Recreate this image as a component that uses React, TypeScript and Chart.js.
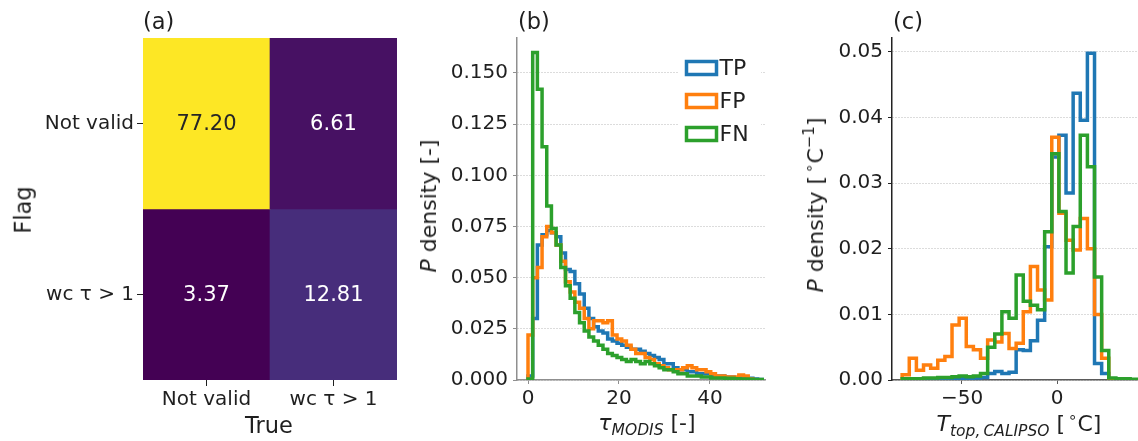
import React, { useEffect, useRef } from 'react';
import { Chart, registerables } from 'chart.js';

Chart.register(...registerables);

const FONT = "'DejaVu Sans', 'Liberation Sans', sans-serif";
const INK = '#1f1f1f';

// ---------------- Panel (a): confusion matrix ----------------
const flagLabels = ['Not valid', 'wc τ > 1']; // rows, top -> bottom
const trueLabels = ['Not valid', 'wc τ > 1']; // columns
const flagNotValidRow = [77.2, 6.61];
const flagWcTauRow = [3.37, 12.81];

// ---------------- shared series ----------------
const seriesNames = ['TP', 'FP', 'FN'];
const seriesColors = ['#1f77b4', '#ff7f0e', '#2ca02c'];

// ---------------- Panel (b): tau_MODIS histograms ----------------
const tauBinStart = 0;
const tauBinWidth = 1.03;
const tauTP = [
  0.002, 0.03, 0.066, 0.071, 0.073, 0.072, 0.07, 0.062, 0.054, 0.053,
  0.047, 0.042, 0.035, 0.03, 0.026, 0.024, 0.023, 0.02, 0.019, 0.018,
  0.017, 0.016, 0.015, 0.015, 0.014, 0.013, 0.012, 0.011, 0.01, 0.008,
  0.008, 0.006, 0.005, 0.005, 0.004, 0.004, 0.003, 0.003, 0.003, 0.002,
  0.002, 0.002, 0.0015, 0.0015, 0.001, 0.001, 0.001, 0.0008, 0.0005, 0.0003,
];
const tauFP = [
  0.022, 0.05, 0.055, 0.07, 0.075, 0.072, 0.066, 0.058, 0.048, 0.043,
  0.038, 0.035, 0.03, 0.025, 0.029, 0.029, 0.028, 0.029, 0.022, 0.02,
  0.019, 0.017, 0.015, 0.013, 0.013, 0.011, 0.01, 0.008, 0.007, 0.006,
  0.005, 0.005, 0.005, 0.006, 0.007, 0.006, 0.005, 0.005, 0.004, 0.003,
  0.002, 0.002, 0.0015, 0.0015, 0.0015, 0.0024, 0.002, 0.0005, 0, 0,
];
const tauFN = [
  0.0005, 0.16, 0.142, 0.114, 0.085, 0.074, 0.066, 0.055, 0.046, 0.04,
  0.033, 0.028, 0.024, 0.021, 0.019, 0.017, 0.015, 0.013, 0.012, 0.011,
  0.01, 0.009, 0.01, 0.009, 0.008, 0.009, 0.008, 0.007, 0.006, 0.005,
  0.005, 0.004, 0.003, 0.003, 0.002, 0.002, 0.002, 0.0015, 0.0015, 0.001,
  0.001, 0.001, 0.0008, 0.0008, 0.0006, 0.0005, 0.0005, 0.0004, 0.0003, 0.0003,
];
const tauXTicks = [0, 20, 40];
const tauYTicks = [0, 0.025, 0.05, 0.075, 0.1, 0.125, 0.15];

// ---------------- Panel (c): T_top,CALIPSO histograms ----------------
const tempBinStart = -81.5;
const tempBinWidth = 3.75;
const tempTP = [
  0, 0, 0, 0, 0, 0.0001, 0.0001, 0.0001, 0.0002, 0.0002,
  0.0003, 0.0004, 0.001, 0.0013, 0.001, 0.0012, 0.0046, 0.0045, 0.006, 0.0091,
  0.0203, 0.034, 0.0373, 0.0285, 0.0437, 0.0396, 0.0498, 0.0025, 0.001, 0,
  0, 0, 0,
];
const tempFP = [
  0.0008, 0.0033, 0.0015, 0.0023, 0.0018, 0.003, 0.0036, 0.0084, 0.0094, 0.0051,
  0.0046, 0.0033, 0.0061, 0.0058, 0.0071, 0.0048, 0.0056, 0.0104, 0.0173, 0.0137,
  0.0122, 0.037, 0.0254, 0.0213, 0.0198, 0.0246, 0.02, 0.01, 0.0033, 0,
  0, 0, 0,
];
const tempFN = [
  0.0002, 0.0002, 0.0002, 0.0003, 0.0003, 0.0004, 0.0004, 0.0005, 0.0006, 0.0005,
  0.0006, 0.001, 0.005, 0.007, 0.0104, 0.0094, 0.016, 0.012, 0.0114, 0.0107,
  0.0226, 0.0345, 0.0257, 0.0163, 0.0234, 0.0373, 0.0325, 0.0157, 0.0045, 0.0003,
  0.0002, 0.0002, 0.0001,
];
const tempXTicks = [-50, 0];
const tempYTicks = [0, 0.01, 0.02, 0.03, 0.04, 0.05];

// ---------------- colour map ----------------
const viridisStops = [
  '#440154', '#471365', '#482475', '#463480', '#414487', '#3b528b', '#355f8d',
  '#2f6c8e', '#2a788e', '#25848e', '#21918c', '#1e9c89', '#22a884', '#2fb47c',
  '#44bf70', '#5ec962', '#7ad151', '#9bd93c', '#bddf26', '#dfe318', '#fde725',
];
function hexToRgb(h: string) {
  return [1, 3, 5].map((i) => parseInt(h.slice(i, i + 2), 16));
}
function viridis(t: number) {
  const tt = Math.max(0, Math.min(1, t));
  const pos = tt * (viridisStops.length - 1);
  const i = Math.min(Math.floor(pos), viridisStops.length - 2);
  const f = pos - i;
  const a = hexToRgb(viridisStops[i]);
  const b = hexToRgb(viridisStops[i + 1]);
  const c = a.map((v, k) => Math.round(v + (b[k] - v) * f));
  return `rgb(${c[0]},${c[1]},${c[2]})`;
}

function stepPoints(start: number, width: number, values: number[]) {
  const pts = [{ x: start, y: 0 }];
  values.forEach((v, i) => pts.push({ x: start + i * width, y: v }));
  const end = start + values.length * width;
  pts.push({ x: end, y: values[values.length - 1] });
  pts.push({ x: end, y: 0 });
  return pts;
}

const heatRows = [flagNotValidRow, flagWcTauRow];

const cellValuesPlugin = {
  id: 'cellValues',
  afterDatasetsDraw(chart: any) {
    const ctx = chart.ctx;
    const all = heatRows.flat();
    const mn = Math.min(...all);
    const mx = Math.max(...all);
    ctx.save();
    ctx.font = `21px ${FONT}`;
    ctx.textAlign = 'center';
    ctx.textBaseline = 'middle';
    chart.data.datasets.forEach((_ds: any, di: number) => {
      const meta = chart.getDatasetMeta(di);
      meta.data.forEach((bar: any, ci: number) => {
        const p = bar.getProps(['x', 'y', 'base'], true);
        const v = heatRows[di][ci];
        ctx.fillStyle = (v - mn) / (mx - mn) > 0.5 ? '#262626' : '#ffffff';
        ctx.fillText(v.toFixed(2), p.x, (p.y + p.base) / 2 + 1);
      });
    });
    ctx.restore();
  },
};

const boxLegendPlugin = {
  id: 'boxLegend',
  afterDraw(chart: any) {
    const { ctx, chartArea } = chart;
    ctx.save();
    ctx.fillStyle = '#ffffff';
    ctx.fillRect(chartArea.right - 86, chartArea.top + 12, 82, 104);
    ctx.font = `22px ${FONT}`;
    ctx.textBaseline = 'middle';
    ctx.lineWidth = 3.5;
    chart.data.datasets.forEach((ds: any, i: number) => {
      const cy = chartArea.top + 30 + i * 33;
      const x = chartArea.right - 78.5;
      ctx.strokeStyle = ds.borderColor;
      ctx.strokeRect(x, cy - 6.5, 30, 13);
      ctx.fillStyle = INK;
      ctx.fillText(ds.label, x + 33, cy + 1);
    });
    ctx.restore();
  },
};

function makeHeatmap(canvas: HTMLCanvasElement) {
  const n = flagLabels.length;
  const all = heatRows.flat();
  const mn = Math.min(...all);
  const mx = Math.max(...all);
  return new Chart(canvas, {
    type: 'bar',
    data: {
      labels: trueLabels,
      datasets: heatRows.map((row, r) => ({
        label: flagLabels[r],
        data: row.map(() => [n - 1 - r, n - r]),
        backgroundColor: row.map((v) => viridis((v - mn) / (mx - mn))),
        borderWidth: 0,
        grouped: false,
        barPercentage: 1,
        categoryPercentage: 1,
      })),
    } as any,
    options: {
      responsive: false,
      animation: false,
      events: [],
      layout: { padding: { top: 38, right: 13, left: 0, bottom: 0 }, autoPadding: false } as any,
      plugins: { legend: { display: false }, tooltip: { enabled: false } },
      scales: {
        x: {
          type: 'category',
          offset: true,
          afterFit: (s: any) => { s.height = 61; },
          ticks: { font: { family: FONT, size: 20 }, color: INK, padding: 2, maxRotation: 0, minRotation: 0 },
          grid: { drawOnChartArea: false, drawTicks: true, tickLength: 6, tickColor: INK, tickWidth: 1, offset: false },
          border: { display: false },
        },
        y: {
          type: 'linear',
          min: 0,
          max: n,
          afterBuildTicks: (s: any) => {
            s.ticks = flagLabels.map((_l, r) => ({ value: n - 1 - r + 0.5 })).sort((a, b) => a.value - b.value);
          },
          afterFit: (s: any) => { s.width = 143; },
          ticks: {
            font: { family: FONT, size: 20 },
            color: INK,
            padding: 3,
            callback: (v: any) => flagLabels[n - 1 - Math.floor(Number(v))],
          },
          grid: { drawOnChartArea: false, drawTicks: true, tickLength: 6, tickColor: INK, tickWidth: 1 },
          border: { display: false },
        },
      },
    } as any,
    plugins: [cellValuesPlugin],
  });
}

function makeHist(canvas: HTMLCanvasElement, o: any) {
  return new Chart(canvas, {
    type: 'line',
    data: {
      datasets: o.series.map((vals: number[], i: number) => ({
        label: seriesNames[i],
        data: stepPoints(o.binStart, o.binWidth, vals),
        borderColor: seriesColors[i],
        backgroundColor: seriesColors[i],
        borderWidth: 3.5,
        pointRadius: 0,
        fill: false,
        stepped: true,
        tension: 0,
        borderJoinStyle: 'miter',
        order: 3 - i,
      })),
    } as any,
    options: {
      responsive: false,
      animation: false,
      events: [],
      layout: { padding: { top: 38, right: o.padRight, left: 0, bottom: 0 }, autoPadding: false } as any,
      plugins: { legend: { display: false }, tooltip: { enabled: false } },
      scales: {
        x: {
          type: 'linear',
          min: o.xMin,
          max: o.xMax,
          afterBuildTicks: (s: any) => { s.ticks = o.xTicks.map((value: number) => ({ value })); },
          afterFit: (s: any) => { s.height = 61; },
          ticks: {
            font: { family: FONT, size: 20 },
            color: INK,
            padding: 3,
            maxRotation: 0,
            minRotation: 0,
            autoSkip: false,
            callback: (v: any) => (Number(v) < 0 ? '\u2212' + Math.abs(Number(v)) : String(v)),
          },
          grid: { drawOnChartArea: false, drawTicks: true, tickLength: 4, tickColor: o.xBorder, tickWidth: 1 },
          border: { display: true, color: o.xBorder, width: 1.5 },
        },
        y: {
          type: 'linear',
          min: 0,
          max: o.yMax,
          afterBuildTicks: (s: any) => { s.ticks = o.yTicks.map((value: number) => ({ value })); },
          afterFit: (s: any) => { s.width = o.yAxisWidth; },
          ticks: {
            font: { family: FONT, size: 20 },
            color: INK,
            padding: 5,
            callback: (v: any) => Number(v).toFixed(o.yDecimals),
          },
          grid: { color: '#b8b8b8', lineWidth: 1, drawTicks: true, tickLength: 4, tickColor: o.yBorder, tickWidth: 1 },
          border: { display: true, color: o.yBorder, width: 1.5, dash: [1, 2] },
        },
      },
    } as any,
    plugins: o.legend ? [boxLegendPlugin] : [],
  });
}

const subStyle: React.CSSProperties = { fontSize: 15.5, fontStyle: 'italic', position: 'relative', top: 5 };
const supStyle: React.CSSProperties = { fontSize: 15, position: 'relative', top: -9 };

function Txt(props: { x: number; y: number; rot?: number; left?: boolean; size?: number; children: any }) {
  const { x, y, rot, left, size = 22, children } = props;
  const tx = left ? '0' : '-50%';
  return (
    <div
      style={{
        position: 'absolute',
        left: x,
        top: y,
        transform: `translate(${tx},-50%)${rot ? ` rotate(${rot}deg)` : ''}`,
        fontSize: size,
        lineHeight: 1,
        whiteSpace: 'nowrap',
        fontFamily: FONT,
        color: INK,
      }}
    >
      {children}
    </div>
  );
}

export default function App() {
  const refA = useRef<HTMLCanvasElement>(null);
  const refB = useRef<HTMLCanvasElement>(null);
  const refC = useRef<HTMLCanvasElement>(null);

  useEffect(() => {
    const charts: Chart[] = [];
    if (refA.current) charts.push(makeHeatmap(refA.current));
    if (refB.current)
      charts.push(
        makeHist(refB.current, {
          series: [tauTP, tauFP, tauFN],
          binStart: tauBinStart,
          binWidth: tauBinWidth,
          xMin: -2.42,
          xMax: 52.1,
          yMax: 0.1671,
          xTicks: tauXTicks,
          yTicks: tauYTicks,
          yDecimals: 3,
          yAxisWidth: 107,
          padRight: 15,
          xBorder: '#8f8f8f',
          yBorder: '#8f8f8f',
          legend: true,
        })
      );
    if (refC.current)
      charts.push(
        makeHist(refC.current, {
          series: [tempTP, tempFP, tempFN],
          binStart: tempBinStart,
          binWidth: tempBinWidth,
          xMin: -86.84,
          xMax: 42.63,
          yMax: 0.05213,
          xTicks: tempXTicks,
          yTicks: tempYTicks,
          yDecimals: 2,
          yAxisWidth: 112,
          padRight: 0,
          xBorder: '#5a5a5a',
          yBorder: '#222222',
          legend: false,
        })
      );
    return () => charts.forEach((c) => c.destroy());
  }, []);

  return (
    <div
      style={{
        position: 'absolute',
        left: 0,
        top: 0,
        width: 1138,
        height: 441,
        background: '#ffffff',
        overflow: 'hidden',
        fontFamily: FONT,
      }}
    >
      <canvas ref={refA} width={410} height={441} style={{ position: 'absolute', left: 0, top: 0, width: 410, height: 441 }} />
      <canvas ref={refB} width={370} height={441} style={{ position: 'absolute', left: 410, top: 0, width: 370, height: 441 }} />
      <canvas ref={refC} width={358} height={441} style={{ position: 'absolute', left: 780, top: 0, width: 358, height: 441 }} />

      <Txt x={143} y={21} left size={22.5}>(a)</Txt>
      <Txt x={518} y={21} left size={22.5}>(b)</Txt>
      <Txt x={893} y={21} left size={22.5}>(c)</Txt>

      <Txt x={23} y={210} rot={-90} size={22.5}>Flag</Txt>
      <Txt x={269} y={425} size={22.5}>True</Txt>

      <Txt x={429} y={206} rot={-90}>
        <i>P</i> density [-]
      </Txt>
      <Txt x={647} y={423}>
        <i>τ</i>
        <span style={subStyle}>MODIS</span> [-]
      </Txt>

      <Txt x={816} y={205} rot={-90}>
        <i>P</i> density [<span style={supStyle}>&#8201;∘</span>C<span style={supStyle}>−1</span>]
      </Txt>
      <Txt x={1019} y={424}>
        <i>T</i>
        <span style={subStyle}>top,&#8201;CALIPSO</span> [<span style={supStyle}>&#8201;∘</span>C]
      </Txt>
    </div>
  );
}
